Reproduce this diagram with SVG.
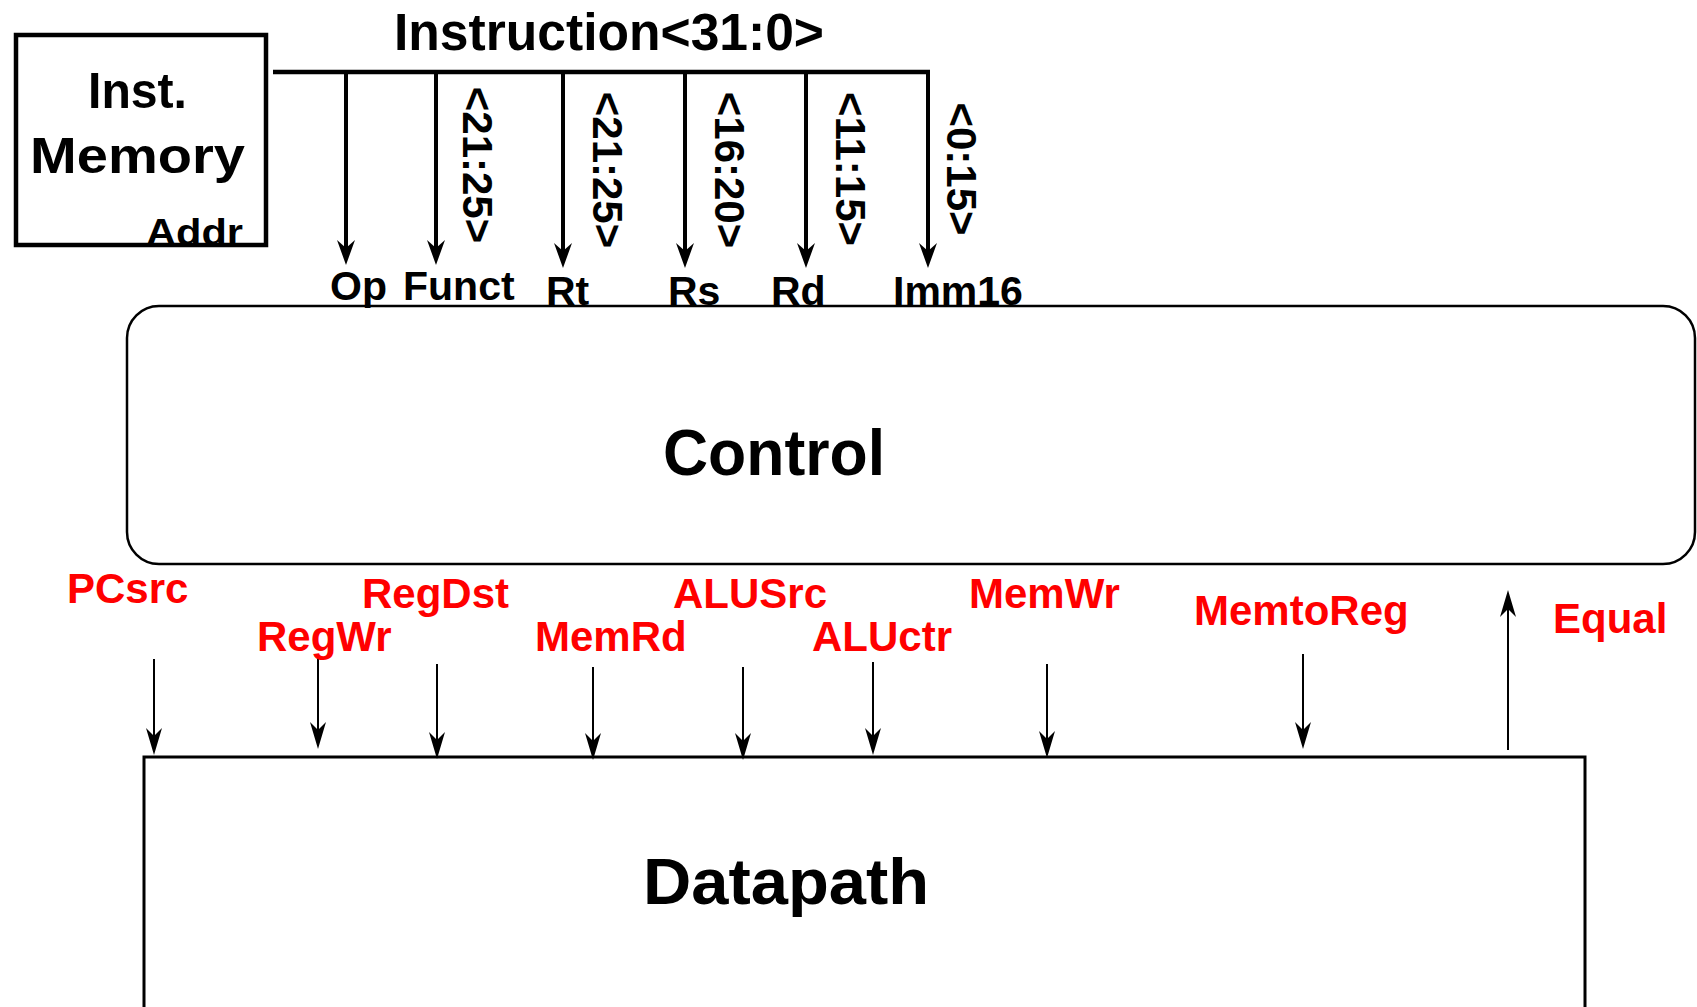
<svg xmlns="http://www.w3.org/2000/svg" width="1697" height="1007" viewBox="0 0 1697 1007">
<style>
text{font-family:"Liberation Sans",Arial,sans-serif;font-weight:bold}
.big{fill:#000}
.lbl{fill:#000;font-size:41px}
.bits{fill:#000;font-size:42px}
.sig{fill:#ff0000;font-size:42px}
.bus{stroke:#000;stroke-width:4.5;fill:none}
.tap{stroke:#000;stroke-width:4;fill:none;marker-end:url(#ah)}
.wire{stroke:#000;stroke-width:2;fill:none;marker-end:url(#as)}
.box{fill:#fff;stroke:#000}
</style>
<defs>
<marker id="ah" markerUnits="userSpaceOnUse" markerWidth="40" markerHeight="30" viewBox="-15 -15 40 30" refX="0" refY="0" orient="auto">
<path d="M16,0 L-9,-9 L-1,0 L-9,9 Z" fill="#000"/>
</marker>
<marker id="as" markerUnits="userSpaceOnUse" markerWidth="40" markerHeight="30" viewBox="-15 -15 40 30" refX="0" refY="0" orient="auto">
<path d="M16,0 L-11,-8 L-3,0 L-11,8 Z" fill="#000"/>
</marker>
</defs>

<g id="inst-memory">
<rect class="box" x="16" y="35" width="250" height="210" stroke-width="4.5"/>
<text class="big" x="88" y="108" font-size="50" textLength="99" lengthAdjust="spacingAndGlyphs">Inst.</text>
<text class="big" x="30" y="173" font-size="50" textLength="215" lengthAdjust="spacingAndGlyphs">Memory</text>
<text class="big" x="146" y="245" font-size="36" textLength="97" lengthAdjust="spacingAndGlyphs">Addr</text>
</g>

<g id="instruction-label">
<text class="big" x="394" y="50" font-size="51" textLength="430" lengthAdjust="spacingAndGlyphs">Instruction&lt;31:0&gt;</text>
</g>

<g id="control">
<rect class="box" x="127" y="306" width="1568" height="258" rx="32" ry="32" stroke-width="2.5"/>
<text class="big" x="663" y="475" font-size="65" textLength="222" lengthAdjust="spacingAndGlyphs">Control</text>
</g>

<g id="datapath">
<rect class="box" x="144" y="757" width="1441" height="300" stroke-width="3"/>
<text class="big" x="643" y="904" font-size="64" textLength="286" lengthAdjust="spacingAndGlyphs">Datapath</text>
</g>

<g id="connectors">
<line class="bus" x1="273" y1="72" x2="930" y2="72"/>
<line class="tap" x1="346" y1="72" x2="346" y2="249"/>
<line class="tap" x1="436" y1="72" x2="436" y2="249"/>
<line class="tap" x1="563" y1="72" x2="563" y2="252"/>
<line class="tap" x1="685" y1="72" x2="685" y2="252"/>
<line class="tap" x1="806" y1="72" x2="806" y2="252"/>
<line class="tap" x1="928" y1="72" x2="928" y2="252"/>

<line class="wire" x1="154" y1="659" x2="154" y2="739"/>
<line class="wire" x1="318" y1="654" x2="318" y2="733"/>
<line class="wire" x1="437" y1="664" x2="437" y2="743"/>
<line class="wire" x1="593" y1="667" x2="593" y2="744"/>
<line class="wire" x1="743" y1="667" x2="743" y2="744"/>
<line class="wire" x1="873" y1="662" x2="873" y2="739"/>
<line class="wire" x1="1047" y1="664" x2="1047" y2="742"/>
<line class="wire" x1="1303" y1="654" x2="1303" y2="733"/>
<line class="wire" x1="1508" y1="750" x2="1508" y2="606"/>
</g>

<g id="field-labels">
<text class="lbl" x="330" y="300">Op</text>
<text class="lbl" x="403" y="300">Funct</text>
<text class="lbl" x="546" y="305">Rt</text>
<text class="lbl" x="668" y="305">Rs</text>
<text class="lbl" x="771" y="305">Rd</text>
<text class="lbl" x="893" y="305">Imm16</text>
<text class="bits" transform="translate(463,165) rotate(90)" text-anchor="middle">&lt;21:25&gt;</text>
<text class="bits" transform="translate(593,170) rotate(90)" text-anchor="middle">&lt;21:25&gt;</text>
<text class="bits" transform="translate(715,170) rotate(90)" text-anchor="middle">&lt;16:20&gt;</text>
<text class="bits" transform="translate(836,169) rotate(90)" text-anchor="middle">&lt;11:15&gt;</text>
<text class="bits" transform="translate(947,169) rotate(90)" text-anchor="middle">&lt;0:15&gt;</text>
</g>

<g id="signal-labels">
<text class="sig" x="67" y="603">PCsrc</text>
<text class="sig" x="257" y="651">RegWr</text>
<text class="sig" x="362" y="608">RegDst</text>
<text class="sig" x="535" y="651">MemRd</text>
<text class="sig" x="673" y="608">ALUSrc</text>
<text class="sig" x="812" y="651">ALUctr</text>
<text class="sig" x="969" y="608">MemWr</text>
<text class="sig" x="1194" y="625">MemtoReg</text>
<text class="sig" x="1553" y="633">Equal</text>
</g>
</svg>
